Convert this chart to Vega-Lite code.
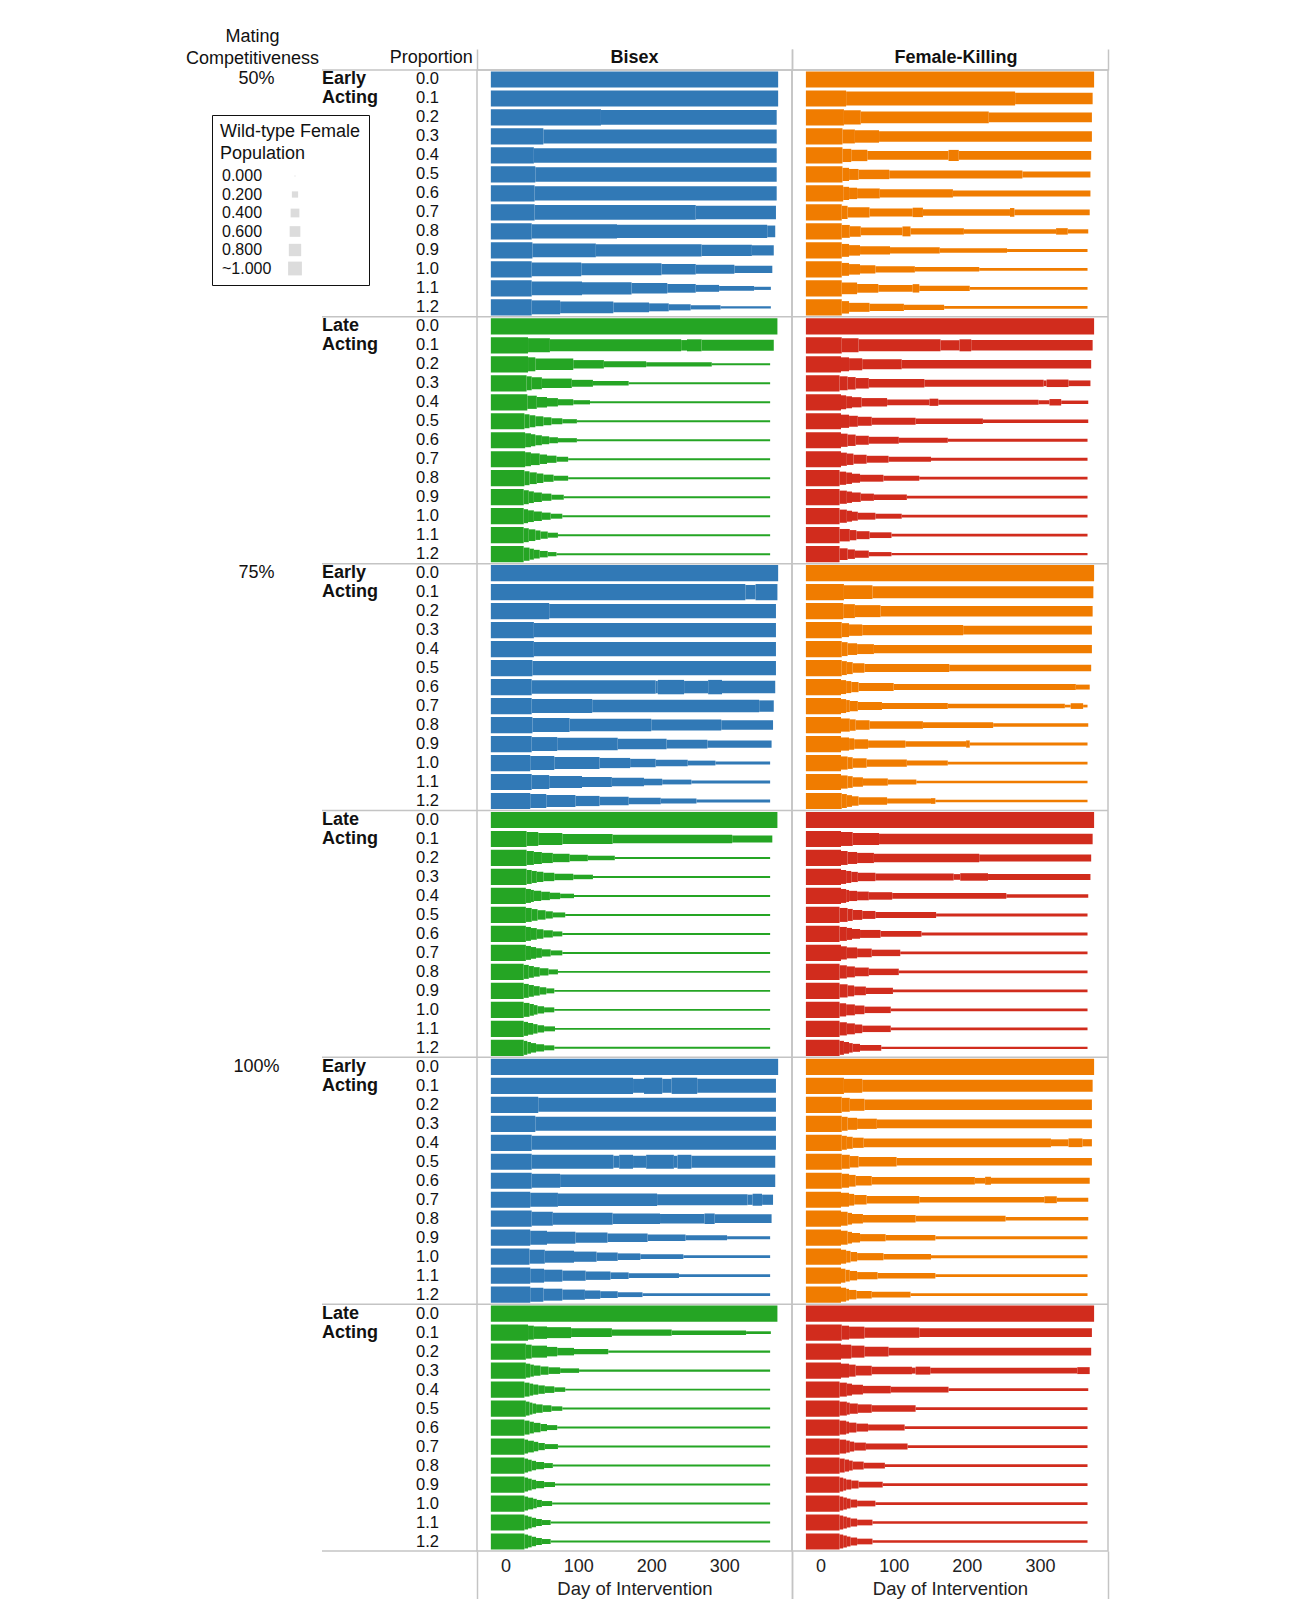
{
  "$schema": "https://vega.github.io/schema/vega-lite/v6.json",
  "padding": {"left": 183, "top": 28, "right": 10, "bottom": 10},
  "background": "white",
  "spacing": 0,
  "bounds": "flush",
  "config": {
    "font": "Liberation Sans",
    "view": {"stroke": null},
    "scale": {"bandPaddingInner": 0, "bandPaddingOuter": 0, "barBandPaddingInner": 0},
    "title": {"fontSize": 18, "color": "#111", "offset": 2, "lineHeight": 22},
    "text": {"color": "#111"}
  },
  "datasets": {
    "labels": [
      {"r": "1E0.0", "c": "m", "txt": "50%"},
      {"r": "2E0.0", "c": "m", "txt": "75%"},
      {"r": "3E0.0", "c": "m", "txt": "100%"},
      {"r": "1E0.0", "c": "a", "txt": "Early"}, {"r": "1E0.1", "c": "a", "txt": "Acting"},
      {"r": "1L0.0", "c": "a", "txt": "Late"}, {"r": "1L0.1", "c": "a", "txt": "Acting"},
      {"r": "2E0.0", "c": "a", "txt": "Early"}, {"r": "2E0.1", "c": "a", "txt": "Acting"},
      {"r": "2L0.0", "c": "a", "txt": "Late"}, {"r": "2L0.1", "c": "a", "txt": "Acting"},
      {"r": "3E0.0", "c": "a", "txt": "Early"}, {"r": "3E0.1", "c": "a", "txt": "Acting"},
      {"r": "3L0.0", "c": "a", "txt": "Late"}, {"r": "3L0.1", "c": "a", "txt": "Acting"}
    ],
    "edges": [{"v": -39}],
    "bisex": [
      {"r":"1E0.0","s":-20,"e":374,"w":1},
      {"r":"1E0.1","s":-20,"e":374,"w":1},
      {"r":"1E0.2","s":-20,"e":131,"w":1},{"r":"1E0.2","s":131,"e":372,"w":0.9},
      {"r":"1E0.3","s":-20,"e":52,"w":1},{"r":"1E0.3","s":52,"e":372,"w":0.86},
      {"r":"1E0.4","s":-20,"e":39,"w":1},{"r":"1E0.4","s":39,"e":372,"w":0.88},
      {"r":"1E0.5","s":-20,"e":41,"w":1},{"r":"1E0.5","s":41,"e":372,"w":0.88},
      {"r":"1E0.6","s":-20,"e":40,"w":1},{"r":"1E0.6","s":40,"e":372,"w":0.88},
      {"r":"1E0.7","s":-20,"e":40,"w":1},{"r":"1E0.7","s":40,"e":261,"w":0.9},{"r":"1E0.7","s":261,"e":371,"w":0.82},
      {"r":"1E0.8","s":-20,"e":36,"w":1},{"r":"1E0.8","s":36,"e":153,"w":0.88},{"r":"1E0.8","s":153,"e":359,"w":0.8},{"r":"1E0.8","s":359,"e":370,"w":0.7},
      {"r":"1E0.9","s":-20,"e":37,"w":1},{"r":"1E0.9","s":37,"e":124,"w":0.85},{"r":"1E0.9","s":124,"e":269,"w":0.75},{"r":"1E0.9","s":269,"e":338,"w":0.68},{"r":"1E0.9","s":338,"e":368,"w":0.6},
      {"r":"1E1.0","s":-20,"e":36,"w":1},{"r":"1E1.0","s":36,"e":104,"w":0.85},{"r":"1E1.0","s":104,"e":214,"w":0.72},{"r":"1E1.0","s":214,"e":261,"w":0.62},{"r":"1E1.0","s":261,"e":314,"w":0.52},{"r":"1E1.0","s":314,"e":366,"w":0.4},
      {"r":"1E1.1","s":-20,"e":36,"w":1},{"r":"1E1.1","s":36,"e":105,"w":0.85},{"r":"1E1.1","s":105,"e":173,"w":0.75},{"r":"1E1.1","s":173,"e":222,"w":0.62},{"r":"1E1.1","s":222,"e":261,"w":0.5},{"r":"1E1.1","s":261,"e":293,"w":0.38},{"r":"1E1.1","s":293,"e":341,"w":0.25},{"r":"1E1.1","s":341,"e":364,"w":0.13},
      {"r":"1E1.2","s":-20,"e":36,"w":1},{"r":"1E1.2","s":36,"e":75,"w":0.85},{"r":"1E1.2","s":75,"e":148,"w":0.7},{"r":"1E1.2","s":148,"e":197,"w":0.58},{"r":"1E1.2","s":197,"e":224,"w":0.45},{"r":"1E1.2","s":224,"e":254,"w":0.33},{"r":"1E1.2","s":254,"e":295,"w":0.2},{"r":"1E1.2","s":295,"e":364,"w":0.08},

      {"r":"1L0.0","s":-20,"e":373,"w":1},
      {"r":"1L0.1","s":-20,"e":31,"w":1},{"r":"1L0.1","s":31,"e":61,"w":0.85},{"r":"1L0.1","s":61,"e":241,"w":0.72},{"r":"1L0.1","s":241,"e":249,"w":0.62},{"r":"1L0.1","s":249,"e":269,"w":0.72},{"r":"1L0.1","s":269,"e":368,"w":0.65},
      {"r":"1L0.2","s":-20,"e":31,"w":1},{"r":"1L0.2","s":31,"e":41,"w":0.85},{"r":"1L0.2","s":41,"e":93,"w":0.68},{"r":"1L0.2","s":93,"e":135,"w":0.48},{"r":"1L0.2","s":135,"e":193,"w":0.32},{"r":"1L0.2","s":193,"e":283,"w":0.2},{"r":"1L0.2","s":283,"e":363,"w":0.06},
      {"r":"1L0.3","s":-20,"e":29,"w":1},{"r":"1L0.3","s":29,"e":36,"w":0.85},{"r":"1L0.3","s":36,"e":50,"w":0.72},{"r":"1L0.3","s":50,"e":91,"w":0.55},{"r":"1L0.3","s":91,"e":120,"w":0.38},{"r":"1L0.3","s":120,"e":169,"w":0.22},{"r":"1L0.3","s":169,"e":363,"w":0.05},
      {"r":"1L0.4","s":-20,"e":30,"w":1},{"r":"1L0.4","s":30,"e":43,"w":0.8},{"r":"1L0.4","s":43,"e":57,"w":0.62},{"r":"1L0.4","s":57,"e":72,"w":0.48},{"r":"1L0.4","s":72,"e":93,"w":0.33},{"r":"1L0.4","s":93,"e":116,"w":0.2},{"r":"1L0.4","s":116,"e":363,"w":0.05},
      {"r":"1L0.5","s":-20,"e":26,"w":1},{"r":"1L0.5","s":26,"e":33,"w":0.85},{"r":"1L0.5","s":33,"e":41,"w":0.72},{"r":"1L0.5","s":41,"e":52,"w":0.58},{"r":"1L0.5","s":52,"e":63,"w":0.45},{"r":"1L0.5","s":63,"e":78,"w":0.32},{"r":"1L0.5","s":78,"e":98,"w":0.2},{"r":"1L0.5","s":98,"e":363,"w":0.05},
      {"r":"1L0.6","s":-20,"e":27,"w":1},{"r":"1L0.6","s":27,"e":35,"w":0.85},{"r":"1L0.6","s":35,"e":41,"w":0.72},{"r":"1L0.6","s":41,"e":50,"w":0.58},{"r":"1L0.6","s":50,"e":60,"w":0.45},{"r":"1L0.6","s":60,"e":72,"w":0.32},{"r":"1L0.6","s":72,"e":98,"w":0.2},{"r":"1L0.6","s":98,"e":363,"w":0.05},
      {"r":"1L0.7","s":-20,"e":27,"w":1},{"r":"1L0.7","s":27,"e":35,"w":0.85},{"r":"1L0.7","s":35,"e":47,"w":0.7},{"r":"1L0.7","s":47,"e":57,"w":0.55},{"r":"1L0.7","s":57,"e":70,"w":0.4},{"r":"1L0.7","s":70,"e":86,"w":0.25},{"r":"1L0.7","s":86,"e":363,"w":0.05},
      {"r":"1L0.8","s":-20,"e":26,"w":1},{"r":"1L0.8","s":26,"e":33,"w":0.85},{"r":"1L0.8","s":33,"e":43,"w":0.7},{"r":"1L0.8","s":43,"e":52,"w":0.55},{"r":"1L0.8","s":52,"e":66,"w":0.4},{"r":"1L0.8","s":66,"e":86,"w":0.25},{"r":"1L0.8","s":86,"e":363,"w":0.05},
      {"r":"1L0.9","s":-20,"e":25,"w":1},{"r":"1L0.9","s":25,"e":32,"w":0.85},{"r":"1L0.9","s":32,"e":39,"w":0.7},{"r":"1L0.9","s":39,"e":50,"w":0.55},{"r":"1L0.9","s":50,"e":63,"w":0.4},{"r":"1L0.9","s":63,"e":80,"w":0.25},{"r":"1L0.9","s":80,"e":363,"w":0.05},
      {"r":"1L1.0","s":-20,"e":25,"w":1},{"r":"1L1.0","s":25,"e":31,"w":0.85},{"r":"1L1.0","s":31,"e":39,"w":0.7},{"r":"1L1.0","s":39,"e":50,"w":0.55},{"r":"1L1.0","s":50,"e":62,"w":0.4},{"r":"1L1.0","s":62,"e":78,"w":0.25},{"r":"1L1.0","s":78,"e":363,"w":0.05},
      {"r":"1L1.1","s":-20,"e":25,"w":1},{"r":"1L1.1","s":25,"e":32,"w":0.85},{"r":"1L1.1","s":32,"e":41,"w":0.7},{"r":"1L1.1","s":41,"e":48,"w":0.55},{"r":"1L1.1","s":48,"e":58,"w":0.4},{"r":"1L1.1","s":58,"e":72,"w":0.25},{"r":"1L1.1","s":72,"e":363,"w":0.05},
      {"r":"1L1.2","s":-20,"e":25,"w":1},{"r":"1L1.2","s":25,"e":33,"w":0.8},{"r":"1L1.2","s":33,"e":39,"w":0.65},{"r":"1L1.2","s":39,"e":47,"w":0.5},{"r":"1L1.2","s":47,"e":58,"w":0.35},{"r":"1L1.2","s":58,"e":70,"w":0.2},{"r":"1L1.2","s":70,"e":363,"w":0.05},

      {"r":"2E0.0","s":-20,"e":374,"w":1},
      {"r":"2E0.1","s":-20,"e":329,"w":1},{"r":"2E0.1","s":329,"e":343,"w":0.88},{"r":"2E0.1","s":343,"e":373,"w":1},
      {"r":"2E0.2","s":-20,"e":60,"w":1},{"r":"2E0.2","s":60,"e":371,"w":0.88},
      {"r":"2E0.3","s":-20,"e":39,"w":1},{"r":"2E0.3","s":39,"e":371,"w":0.88},
      {"r":"2E0.4","s":-20,"e":39,"w":1},{"r":"2E0.4","s":39,"e":371,"w":0.88},
      {"r":"2E0.5","s":-20,"e":37,"w":1},{"r":"2E0.5","s":37,"e":371,"w":0.88},
      {"r":"2E0.6","s":-20,"e":36,"w":1},{"r":"2E0.6","s":36,"e":206,"w":0.82},{"r":"2E0.6","s":206,"e":209,"w":0.75},{"r":"2E0.6","s":209,"e":245,"w":0.88},{"r":"2E0.6","s":245,"e":278,"w":0.75},{"r":"2E0.6","s":278,"e":297,"w":0.88},{"r":"2E0.6","s":297,"e":370,"w":0.75},
      {"r":"2E0.7","s":-20,"e":36,"w":1},{"r":"2E0.7","s":36,"e":119,"w":0.85},{"r":"2E0.7","s":119,"e":348,"w":0.75},{"r":"2E0.7","s":348,"e":368,"w":0.68},
      {"r":"2E0.8","s":-20,"e":37,"w":1},{"r":"2E0.8","s":37,"e":88,"w":0.85},{"r":"2E0.8","s":88,"e":200,"w":0.75},{"r":"2E0.8","s":200,"e":296,"w":0.65},{"r":"2E0.8","s":296,"e":367,"w":0.55},
      {"r":"2E0.9","s":-20,"e":36,"w":1},{"r":"2E0.9","s":36,"e":71,"w":0.85},{"r":"2E0.9","s":71,"e":154,"w":0.75},{"r":"2E0.9","s":154,"e":221,"w":0.62},{"r":"2E0.9","s":221,"e":277,"w":0.5},{"r":"2E0.9","s":277,"e":365,"w":0.4},
      {"r":"2E1.0","s":-20,"e":34,"w":1},{"r":"2E1.0","s":34,"e":67,"w":0.85},{"r":"2E1.0","s":67,"e":129,"w":0.72},{"r":"2E1.0","s":129,"e":171,"w":0.6},{"r":"2E1.0","s":171,"e":206,"w":0.48},{"r":"2E1.0","s":206,"e":250,"w":0.36},{"r":"2E1.0","s":250,"e":288,"w":0.24},{"r":"2E1.0","s":288,"e":363,"w":0.12},
      {"r":"2E1.1","s":-20,"e":36,"w":1},{"r":"2E1.1","s":36,"e":60,"w":0.85},{"r":"2E1.1","s":60,"e":105,"w":0.72},{"r":"2E1.1","s":105,"e":146,"w":0.6},{"r":"2E1.1","s":146,"e":190,"w":0.48},{"r":"2E1.1","s":190,"e":215,"w":0.36},{"r":"2E1.1","s":215,"e":255,"w":0.24},{"r":"2E1.1","s":255,"e":363,"w":0.12},
      {"r":"2E1.2","s":-20,"e":34,"w":1},{"r":"2E1.2","s":34,"e":56,"w":0.85},{"r":"2E1.2","s":56,"e":96,"w":0.72},{"r":"2E1.2","s":96,"e":129,"w":0.6},{"r":"2E1.2","s":129,"e":169,"w":0.48},{"r":"2E1.2","s":169,"e":213,"w":0.36},{"r":"2E1.2","s":213,"e":262,"w":0.24},{"r":"2E1.2","s":262,"e":363,"w":0.12},

      {"r":"2L0.0","s":-20,"e":373,"w":1},
      {"r":"2L0.1","s":-20,"e":29,"w":1},{"r":"2L0.1","s":29,"e":45,"w":0.85},{"r":"2L0.1","s":45,"e":78,"w":0.72},{"r":"2L0.1","s":78,"e":147,"w":0.6},{"r":"2L0.1","s":147,"e":311,"w":0.5},{"r":"2L0.1","s":311,"e":366,"w":0.38},
      {"r":"2L0.2","s":-20,"e":29,"w":1},{"r":"2L0.2","s":29,"e":39,"w":0.85},{"r":"2L0.2","s":39,"e":50,"w":0.72},{"r":"2L0.2","s":50,"e":65,"w":0.6},{"r":"2L0.2","s":65,"e":88,"w":0.48},{"r":"2L0.2","s":88,"e":113,"w":0.35},{"r":"2L0.2","s":113,"e":150,"w":0.22},{"r":"2L0.2","s":150,"e":363,"w":0.06},
      {"r":"2L0.3","s":-20,"e":29,"w":1},{"r":"2L0.3","s":29,"e":36,"w":0.85},{"r":"2L0.3","s":36,"e":43,"w":0.72},{"r":"2L0.3","s":43,"e":52,"w":0.6},{"r":"2L0.3","s":52,"e":67,"w":0.48},{"r":"2L0.3","s":67,"e":93,"w":0.35},{"r":"2L0.3","s":93,"e":120,"w":0.22},{"r":"2L0.3","s":120,"e":363,"w":0.05},
      {"r":"2L0.4","s":-20,"e":28,"w":1},{"r":"2L0.4","s":28,"e":35,"w":0.85},{"r":"2L0.4","s":35,"e":39,"w":0.72},{"r":"2L0.4","s":39,"e":49,"w":0.6},{"r":"2L0.4","s":49,"e":61,"w":0.48},{"r":"2L0.4","s":61,"e":75,"w":0.35},{"r":"2L0.4","s":75,"e":94,"w":0.22},{"r":"2L0.4","s":94,"e":363,"w":0.05},
      {"r":"2L0.5","s":-20,"e":28,"w":1},{"r":"2L0.5","s":28,"e":36,"w":0.85},{"r":"2L0.5","s":36,"e":44,"w":0.7},{"r":"2L0.5","s":44,"e":55,"w":0.55},{"r":"2L0.5","s":55,"e":65,"w":0.4},{"r":"2L0.5","s":65,"e":82,"w":0.25},{"r":"2L0.5","s":82,"e":363,"w":0.05},
      {"r":"2L0.6","s":-20,"e":28,"w":1},{"r":"2L0.6","s":28,"e":35,"w":0.85},{"r":"2L0.6","s":35,"e":43,"w":0.7},{"r":"2L0.6","s":43,"e":52,"w":0.55},{"r":"2L0.6","s":52,"e":65,"w":0.4},{"r":"2L0.6","s":65,"e":78,"w":0.25},{"r":"2L0.6","s":78,"e":363,"w":0.05},
      {"r":"2L0.7","s":-20,"e":28,"w":1},{"r":"2L0.7","s":28,"e":35,"w":0.85},{"r":"2L0.7","s":35,"e":42,"w":0.7},{"r":"2L0.7","s":42,"e":50,"w":0.55},{"r":"2L0.7","s":50,"e":62,"w":0.4},{"r":"2L0.7","s":62,"e":78,"w":0.25},{"r":"2L0.7","s":78,"e":363,"w":0.05},
      {"r":"2L0.8","s":-20,"e":25,"w":1},{"r":"2L0.8","s":25,"e":32,"w":0.85},{"r":"2L0.8","s":32,"e":39,"w":0.7},{"r":"2L0.8","s":39,"e":47,"w":0.55},{"r":"2L0.8","s":47,"e":59,"w":0.4},{"r":"2L0.8","s":59,"e":72,"w":0.25},{"r":"2L0.8","s":72,"e":363,"w":0.05},
      {"r":"2L0.9","s":-20,"e":25,"w":1},{"r":"2L0.9","s":25,"e":32,"w":0.85},{"r":"2L0.9","s":32,"e":39,"w":0.7},{"r":"2L0.9","s":39,"e":47,"w":0.55},{"r":"2L0.9","s":47,"e":56,"w":0.4},{"r":"2L0.9","s":56,"e":67,"w":0.25},{"r":"2L0.9","s":67,"e":363,"w":0.05},
      {"r":"2L1.0","s":-20,"e":25,"w":1},{"r":"2L1.0","s":25,"e":33,"w":0.85},{"r":"2L1.0","s":33,"e":39,"w":0.7},{"r":"2L1.0","s":39,"e":44,"w":0.55},{"r":"2L1.0","s":44,"e":53,"w":0.4},{"r":"2L1.0","s":53,"e":67,"w":0.25},{"r":"2L1.0","s":67,"e":363,"w":0.05},
      {"r":"2L1.1","s":-20,"e":25,"w":1},{"r":"2L1.1","s":25,"e":31,"w":0.85},{"r":"2L1.1","s":31,"e":38,"w":0.7},{"r":"2L1.1","s":38,"e":44,"w":0.55},{"r":"2L1.1","s":44,"e":53,"w":0.4},{"r":"2L1.1","s":53,"e":68,"w":0.25},{"r":"2L1.1","s":68,"e":363,"w":0.05},
      {"r":"2L1.2","s":-20,"e":25,"w":1},{"r":"2L1.2","s":25,"e":30,"w":0.85},{"r":"2L1.2","s":30,"e":35,"w":0.7},{"r":"2L1.2","s":35,"e":42,"w":0.55},{"r":"2L1.2","s":42,"e":53,"w":0.4},{"r":"2L1.2","s":53,"e":67,"w":0.25},{"r":"2L1.2","s":67,"e":363,"w":0.05},

      {"r":"3E0.0","s":-20,"e":374,"w":1},
      {"r":"3E0.1","s":-20,"e":175,"w":1},{"r":"3E0.1","s":175,"e":190,"w":0.85},{"r":"3E0.1","s":190,"e":215,"w":1},{"r":"3E0.1","s":215,"e":228,"w":0.85},{"r":"3E0.1","s":228,"e":263,"w":1},{"r":"3E0.1","s":263,"e":371,"w":0.85},
      {"r":"3E0.2","s":-20,"e":45,"w":1},{"r":"3E0.2","s":45,"e":371,"w":0.85},
      {"r":"3E0.3","s":-20,"e":41,"w":1},{"r":"3E0.3","s":41,"e":371,"w":0.85},
      {"r":"3E0.4","s":-20,"e":36,"w":1},{"r":"3E0.4","s":36,"e":371,"w":0.85},
      {"r":"3E0.5","s":-20,"e":36,"w":1},{"r":"3E0.5","s":36,"e":148,"w":0.85},{"r":"3E0.5","s":148,"e":156,"w":0.72},{"r":"3E0.5","s":156,"e":175,"w":0.85},{"r":"3E0.5","s":175,"e":193,"w":0.72},{"r":"3E0.5","s":193,"e":231,"w":0.85},{"r":"3E0.5","s":231,"e":236,"w":0.72},{"r":"3E0.5","s":236,"e":255,"w":0.85},{"r":"3E0.5","s":255,"e":370,"w":0.72},
      {"r":"3E0.6","s":-20,"e":36,"w":1},{"r":"3E0.6","s":36,"e":75,"w":0.85},{"r":"3E0.6","s":75,"e":370,"w":0.75},
      {"r":"3E0.7","s":-20,"e":34,"w":1},{"r":"3E0.7","s":34,"e":72,"w":0.85},{"r":"3E0.7","s":72,"e":208,"w":0.75},{"r":"3E0.7","s":208,"e":332,"w":0.65},{"r":"3E0.7","s":332,"e":339,"w":0.6},{"r":"3E0.7","s":339,"e":352,"w":0.72},{"r":"3E0.7","s":352,"e":367,"w":0.6},
      {"r":"3E0.8","s":-20,"e":36,"w":1},{"r":"3E0.8","s":36,"e":65,"w":0.85},{"r":"3E0.8","s":65,"e":147,"w":0.72},{"r":"3E0.8","s":147,"e":212,"w":0.62},{"r":"3E0.8","s":212,"e":273,"w":0.55},{"r":"3E0.8","s":273,"e":287,"w":0.62},{"r":"3E0.8","s":287,"e":365,"w":0.5},
      {"r":"3E0.9","s":-20,"e":34,"w":1},{"r":"3E0.9","s":34,"e":57,"w":0.85},{"r":"3E0.9","s":57,"e":96,"w":0.72},{"r":"3E0.9","s":96,"e":140,"w":0.6},{"r":"3E0.9","s":140,"e":195,"w":0.48},{"r":"3E0.9","s":195,"e":247,"w":0.36},{"r":"3E0.9","s":247,"e":304,"w":0.25},{"r":"3E0.9","s":304,"e":363,"w":0.12},
      {"r":"3E1.0","s":-20,"e":33,"w":1},{"r":"3E1.0","s":33,"e":54,"w":0.85},{"r":"3E1.0","s":54,"e":94,"w":0.72},{"r":"3E1.0","s":94,"e":125,"w":0.6},{"r":"3E1.0","s":125,"e":154,"w":0.48},{"r":"3E1.0","s":154,"e":185,"w":0.36},{"r":"3E1.0","s":185,"e":244,"w":0.24},{"r":"3E1.0","s":244,"e":363,"w":0.1},
      {"r":"3E1.1","s":-20,"e":34,"w":1},{"r":"3E1.1","s":34,"e":53,"w":0.85},{"r":"3E1.1","s":53,"e":78,"w":0.72},{"r":"3E1.1","s":78,"e":110,"w":0.6},{"r":"3E1.1","s":110,"e":144,"w":0.48},{"r":"3E1.1","s":144,"e":169,"w":0.36},{"r":"3E1.1","s":169,"e":238,"w":0.24},{"r":"3E1.1","s":238,"e":363,"w":0.1},
      {"r":"3E1.2","s":-20,"e":34,"w":1},{"r":"3E1.2","s":34,"e":52,"w":0.85},{"r":"3E1.2","s":52,"e":78,"w":0.72},{"r":"3E1.2","s":78,"e":109,"w":0.6},{"r":"3E1.2","s":109,"e":130,"w":0.48},{"r":"3E1.2","s":130,"e":154,"w":0.36},{"r":"3E1.2","s":154,"e":188,"w":0.24},{"r":"3E1.2","s":188,"e":363,"w":0.1},

      {"r":"3L0.0","s":-20,"e":373,"w":1},
      {"r":"3L0.1","s":-20,"e":31,"w":1},{"r":"3L0.1","s":31,"e":39,"w":0.85},{"r":"3L0.1","s":39,"e":57,"w":0.75},{"r":"3L0.1","s":57,"e":90,"w":0.65},{"r":"3L0.1","s":90,"e":146,"w":0.5},{"r":"3L0.1","s":146,"e":228,"w":0.35},{"r":"3L0.1","s":228,"e":330,"w":0.22},{"r":"3L0.1","s":330,"e":364,"w":0.1},
      {"r":"3L0.2","s":-20,"e":28,"w":1},{"r":"3L0.2","s":28,"e":36,"w":0.85},{"r":"3L0.2","s":36,"e":57,"w":0.72},{"r":"3L0.2","s":57,"e":71,"w":0.55},{"r":"3L0.2","s":71,"e":94,"w":0.42},{"r":"3L0.2","s":94,"e":141,"w":0.28},{"r":"3L0.2","s":141,"e":363,"w":0.08},
      {"r":"3L0.3","s":-20,"e":28,"w":1},{"r":"3L0.3","s":28,"e":34,"w":0.85},{"r":"3L0.3","s":34,"e":39,"w":0.72},{"r":"3L0.3","s":39,"e":48,"w":0.6},{"r":"3L0.3","s":48,"e":59,"w":0.48},{"r":"3L0.3","s":59,"e":75,"w":0.36},{"r":"3L0.3","s":75,"e":101,"w":0.22},{"r":"3L0.3","s":101,"e":363,"w":0.06},
      {"r":"3L0.4","s":-20,"e":26,"w":1},{"r":"3L0.4","s":26,"e":33,"w":0.85},{"r":"3L0.4","s":33,"e":38,"w":0.72},{"r":"3L0.4","s":38,"e":45,"w":0.6},{"r":"3L0.4","s":45,"e":54,"w":0.48},{"r":"3L0.4","s":54,"e":67,"w":0.36},{"r":"3L0.4","s":67,"e":82,"w":0.22},{"r":"3L0.4","s":82,"e":363,"w":0.05},
      {"r":"3L0.5","s":-20,"e":28,"w":1},{"r":"3L0.5","s":28,"e":33,"w":0.85},{"r":"3L0.5","s":33,"e":37,"w":0.72},{"r":"3L0.5","s":37,"e":42,"w":0.6},{"r":"3L0.5","s":42,"e":51,"w":0.48},{"r":"3L0.5","s":51,"e":63,"w":0.36},{"r":"3L0.5","s":63,"e":78,"w":0.22},{"r":"3L0.5","s":78,"e":363,"w":0.05},
      {"r":"3L0.6","s":-20,"e":26,"w":1},{"r":"3L0.6","s":26,"e":33,"w":0.85},{"r":"3L0.6","s":33,"e":39,"w":0.7},{"r":"3L0.6","s":39,"e":48,"w":0.55},{"r":"3L0.6","s":48,"e":57,"w":0.4},{"r":"3L0.6","s":57,"e":71,"w":0.25},{"r":"3L0.6","s":71,"e":363,"w":0.05},
      {"r":"3L0.7","s":-20,"e":26,"w":1},{"r":"3L0.7","s":26,"e":31,"w":0.85},{"r":"3L0.7","s":31,"e":39,"w":0.7},{"r":"3L0.7","s":39,"e":45,"w":0.55},{"r":"3L0.7","s":45,"e":54,"w":0.4},{"r":"3L0.7","s":54,"e":72,"w":0.25},{"r":"3L0.7","s":72,"e":363,"w":0.05},
      {"r":"3L0.8","s":-20,"e":26,"w":1},{"r":"3L0.8","s":26,"e":31,"w":0.85},{"r":"3L0.8","s":31,"e":36,"w":0.7},{"r":"3L0.8","s":36,"e":42,"w":0.55},{"r":"3L0.8","s":42,"e":53,"w":0.4},{"r":"3L0.8","s":53,"e":65,"w":0.25},{"r":"3L0.8","s":65,"e":363,"w":0.05},
      {"r":"3L0.9","s":-20,"e":26,"w":1},{"r":"3L0.9","s":26,"e":31,"w":0.85},{"r":"3L0.9","s":31,"e":36,"w":0.7},{"r":"3L0.9","s":36,"e":42,"w":0.55},{"r":"3L0.9","s":42,"e":53,"w":0.4},{"r":"3L0.9","s":53,"e":68,"w":0.25},{"r":"3L0.9","s":68,"e":363,"w":0.05},
      {"r":"3L1.0","s":-20,"e":26,"w":1},{"r":"3L1.0","s":26,"e":31,"w":0.85},{"r":"3L1.0","s":31,"e":38,"w":0.7},{"r":"3L1.0","s":38,"e":43,"w":0.55},{"r":"3L1.0","s":43,"e":50,"w":0.4},{"r":"3L1.0","s":50,"e":64,"w":0.25},{"r":"3L1.0","s":64,"e":363,"w":0.05},
      {"r":"3L1.1","s":-20,"e":26,"w":1},{"r":"3L1.1","s":26,"e":31,"w":0.85},{"r":"3L1.1","s":31,"e":36,"w":0.7},{"r":"3L1.1","s":36,"e":42,"w":0.55},{"r":"3L1.1","s":42,"e":50,"w":0.4},{"r":"3L1.1","s":50,"e":62,"w":0.25},{"r":"3L1.1","s":62,"e":363,"w":0.05},
      {"r":"3L1.2","s":-20,"e":26,"w":1},{"r":"3L1.2","s":26,"e":31,"w":0.85},{"r":"3L1.2","s":31,"e":36,"w":0.7},{"r":"3L1.2","s":36,"e":42,"w":0.55},{"r":"3L1.2","s":42,"e":50,"w":0.4},{"r":"3L1.2","s":50,"e":62,"w":0.25},{"r":"3L1.2","s":62,"e":363,"w":0.05}
    ],
    "fk": [
      {"r":"1E0.0","s":-20,"e":374,"w":1},
      {"r":"1E0.1","s":-20,"e":35,"w":1},{"r":"1E0.1","s":35,"e":266,"w":0.85},{"r":"1E0.1","s":266,"e":372,"w":0.7},
      {"r":"1E0.2","s":-20,"e":32,"w":1},{"r":"1E0.2","s":32,"e":55,"w":0.87},{"r":"1E0.2","s":55,"e":230,"w":0.7},{"r":"1E0.2","s":230,"e":371,"w":0.57},
      {"r":"1E0.3","s":-20,"e":30,"w":1},{"r":"1E0.3","s":30,"e":47,"w":0.85},{"r":"1E0.3","s":47,"e":80,"w":0.75},{"r":"1E0.3","s":80,"e":371,"w":0.62},
      {"r":"1E0.4","s":-20,"e":30,"w":1},{"r":"1E0.4","s":30,"e":42,"w":0.8},{"r":"1E0.4","s":42,"e":64,"w":0.68},{"r":"1E0.4","s":64,"e":175,"w":0.5},{"r":"1E0.4","s":175,"e":189,"w":0.66},{"r":"1E0.4","s":189,"e":370,"w":0.5},
      {"r":"1E0.5","s":-20,"e":30,"w":1},{"r":"1E0.5","s":30,"e":39,"w":0.8},{"r":"1E0.5","s":39,"e":52,"w":0.65},{"r":"1E0.5","s":52,"e":94,"w":0.55},{"r":"1E0.5","s":94,"e":276,"w":0.45},{"r":"1E0.5","s":276,"e":369,"w":0.32},
      {"r":"1E0.6","s":-20,"e":31,"w":1},{"r":"1E0.6","s":31,"e":39,"w":0.8},{"r":"1E0.6","s":39,"e":50,"w":0.68},{"r":"1E0.6","s":50,"e":81,"w":0.58},{"r":"1E0.6","s":81,"e":181,"w":0.47},{"r":"1E0.6","s":181,"e":369,"w":0.32},
      {"r":"1E0.7","s":-20,"e":29,"w":1},{"r":"1E0.7","s":29,"e":37,"w":0.8},{"r":"1E0.7","s":37,"e":67,"w":0.6},{"r":"1E0.7","s":67,"e":126,"w":0.45},{"r":"1E0.7","s":126,"e":140,"w":0.55},{"r":"1E0.7","s":140,"e":259,"w":0.35},{"r":"1E0.7","s":259,"e":265,"w":0.5},{"r":"1E0.7","s":265,"e":368,"w":0.3},
      {"r":"1E0.8","s":-20,"e":29,"w":1},{"r":"1E0.8","s":29,"e":40,"w":0.78},{"r":"1E0.8","s":40,"e":55,"w":0.62},{"r":"1E0.8","s":55,"e":112,"w":0.45},{"r":"1E0.8","s":112,"e":123,"w":0.58},{"r":"1E0.8","s":123,"e":196,"w":0.35},{"r":"1E0.8","s":196,"e":322,"w":0.22},{"r":"1E0.8","s":322,"e":338,"w":0.35},{"r":"1E0.8","s":338,"e":366,"w":0.2},
      {"r":"1E0.9","s":-20,"e":29,"w":1},{"r":"1E0.9","s":29,"e":39,"w":0.78},{"r":"1E0.9","s":39,"e":54,"w":0.62},{"r":"1E0.9","s":54,"e":95,"w":0.48},{"r":"1E0.9","s":95,"e":163,"w":0.35},{"r":"1E0.9","s":163,"e":255,"w":0.22},{"r":"1E0.9","s":255,"e":365,"w":0.12},
      {"r":"1E1.0","s":-20,"e":29,"w":1},{"r":"1E1.0","s":29,"e":39,"w":0.78},{"r":"1E1.0","s":39,"e":54,"w":0.62},{"r":"1E1.0","s":54,"e":75,"w":0.48},{"r":"1E1.0","s":75,"e":129,"w":0.35},{"r":"1E1.0","s":129,"e":217,"w":0.22},{"r":"1E1.0","s":217,"e":365,"w":0.1},
      {"r":"1E1.1","s":-20,"e":29,"w":1},{"r":"1E1.1","s":29,"e":50,"w":0.7},{"r":"1E1.1","s":50,"e":79,"w":0.5},{"r":"1E1.1","s":79,"e":126,"w":0.38},{"r":"1E1.1","s":126,"e":135,"w":0.48},{"r":"1E1.1","s":135,"e":204,"w":0.28},{"r":"1E1.1","s":204,"e":365,"w":0.1},
      {"r":"1E1.2","s":-20,"e":29,"w":1},{"r":"1E1.2","s":29,"e":39,"w":0.75},{"r":"1E1.2","s":39,"e":67,"w":0.52},{"r":"1E1.2","s":67,"e":114,"w":0.4},{"r":"1E1.2","s":114,"e":169,"w":0.28},{"r":"1E1.2","s":169,"e":365,"w":0.1},

      {"r":"1L0.0","s":-20,"e":374,"w":1},
      {"r":"1L0.1","s":-20,"e":29,"w":1},{"r":"1L0.1","s":29,"e":52,"w":0.85},{"r":"1L0.1","s":52,"e":164,"w":0.72},{"r":"1L0.1","s":164,"e":190,"w":0.6},{"r":"1L0.1","s":190,"e":206,"w":0.72},{"r":"1L0.1","s":206,"e":372,"w":0.62},
      {"r":"1L0.2","s":-20,"e":28,"w":1},{"r":"1L0.2","s":28,"e":39,"w":0.85},{"r":"1L0.2","s":39,"e":57,"w":0.72},{"r":"1L0.2","s":57,"e":111,"w":0.58},{"r":"1L0.2","s":111,"e":370,"w":0.48},
      {"r":"1L0.3","s":-20,"e":26,"w":1},{"r":"1L0.3","s":26,"e":37,"w":0.85},{"r":"1L0.3","s":37,"e":48,"w":0.75},{"r":"1L0.3","s":48,"e":66,"w":0.62},{"r":"1L0.3","s":66,"e":142,"w":0.48},{"r":"1L0.3","s":142,"e":305,"w":0.38},{"r":"1L0.3","s":305,"e":309,"w":0.3},{"r":"1L0.3","s":309,"e":339,"w":0.42},{"r":"1L0.3","s":339,"e":369,"w":0.3},
      {"r":"1L0.4","s":-20,"e":28,"w":1},{"r":"1L0.4","s":28,"e":35,"w":0.85},{"r":"1L0.4","s":35,"e":43,"w":0.72},{"r":"1L0.4","s":43,"e":56,"w":0.6},{"r":"1L0.4","s":56,"e":91,"w":0.48},{"r":"1L0.4","s":91,"e":149,"w":0.3},{"r":"1L0.4","s":149,"e":161,"w":0.4},{"r":"1L0.4","s":161,"e":298,"w":0.26},{"r":"1L0.4","s":298,"e":313,"w":0.18},{"r":"1L0.4","s":313,"e":329,"w":0.35},{"r":"1L0.4","s":329,"e":366,"w":0.15},
      {"r":"1L0.5","s":-20,"e":28,"w":1},{"r":"1L0.5","s":28,"e":39,"w":0.8},{"r":"1L0.5","s":39,"e":51,"w":0.65},{"r":"1L0.5","s":51,"e":70,"w":0.52},{"r":"1L0.5","s":70,"e":130,"w":0.38},{"r":"1L0.5","s":130,"e":222,"w":0.28},{"r":"1L0.5","s":222,"e":366,"w":0.15},
      {"r":"1L0.6","s":-20,"e":28,"w":1},{"r":"1L0.6","s":28,"e":37,"w":0.8},{"r":"1L0.6","s":37,"e":48,"w":0.68},{"r":"1L0.6","s":48,"e":66,"w":0.52},{"r":"1L0.6","s":66,"e":107,"w":0.38},{"r":"1L0.6","s":107,"e":174,"w":0.25},{"r":"1L0.6","s":174,"e":365,"w":0.12},
      {"r":"1L0.7","s":-20,"e":28,"w":1},{"r":"1L0.7","s":28,"e":36,"w":0.8},{"r":"1L0.7","s":36,"e":45,"w":0.68},{"r":"1L0.7","s":45,"e":63,"w":0.52},{"r":"1L0.7","s":63,"e":93,"w":0.38},{"r":"1L0.7","s":93,"e":151,"w":0.25},{"r":"1L0.7","s":151,"e":365,"w":0.12},
      {"r":"1L0.8","s":-20,"e":26,"w":1},{"r":"1L0.8","s":26,"e":35,"w":0.8},{"r":"1L0.8","s":35,"e":43,"w":0.68},{"r":"1L0.8","s":43,"e":54,"w":0.52},{"r":"1L0.8","s":54,"e":86,"w":0.38},{"r":"1L0.8","s":86,"e":135,"w":0.25},{"r":"1L0.8","s":135,"e":365,"w":0.1},
      {"r":"1L0.9","s":-20,"e":26,"w":1},{"r":"1L0.9","s":26,"e":36,"w":0.8},{"r":"1L0.9","s":36,"e":43,"w":0.68},{"r":"1L0.9","s":43,"e":55,"w":0.55},{"r":"1L0.9","s":55,"e":73,"w":0.4},{"r":"1L0.9","s":73,"e":118,"w":0.28},{"r":"1L0.9","s":118,"e":365,"w":0.1},
      {"r":"1L1.0","s":-20,"e":26,"w":1},{"r":"1L1.0","s":26,"e":36,"w":0.8},{"r":"1L1.0","s":36,"e":43,"w":0.65},{"r":"1L1.0","s":43,"e":51,"w":0.52},{"r":"1L1.0","s":51,"e":75,"w":0.38},{"r":"1L1.0","s":75,"e":111,"w":0.25},{"r":"1L1.0","s":111,"e":365,"w":0.1},
      {"r":"1L1.1","s":-20,"e":26,"w":1},{"r":"1L1.1","s":26,"e":40,"w":0.75},{"r":"1L1.1","s":40,"e":49,"w":0.6},{"r":"1L1.1","s":49,"e":67,"w":0.45},{"r":"1L1.1","s":67,"e":97,"w":0.3},{"r":"1L1.1","s":97,"e":365,"w":0.1},
      {"r":"1L1.2","s":-20,"e":26,"w":1},{"r":"1L1.2","s":26,"e":37,"w":0.7},{"r":"1L1.2","s":37,"e":47,"w":0.55},{"r":"1L1.2","s":47,"e":66,"w":0.4},{"r":"1L1.2","s":66,"e":97,"w":0.2},{"r":"1L1.2","s":97,"e":365,"w":0.08},

      {"r":"2E0.0","s":-20,"e":374,"w":1},
      {"r":"2E0.1","s":-20,"e":32,"w":1},{"r":"2E0.1","s":32,"e":71,"w":0.85},{"r":"2E0.1","s":71,"e":373,"w":0.72},
      {"r":"2E0.2","s":-20,"e":31,"w":1},{"r":"2E0.2","s":31,"e":47,"w":0.85},{"r":"2E0.2","s":47,"e":82,"w":0.72},{"r":"2E0.2","s":82,"e":372,"w":0.62},
      {"r":"2E0.3","s":-20,"e":29,"w":1},{"r":"2E0.3","s":29,"e":39,"w":0.85},{"r":"2E0.3","s":39,"e":57,"w":0.68},{"r":"2E0.3","s":57,"e":195,"w":0.6},{"r":"2E0.3","s":195,"e":371,"w":0.5},
      {"r":"2E0.4","s":-20,"e":29,"w":1},{"r":"2E0.4","s":29,"e":37,"w":0.85},{"r":"2E0.4","s":37,"e":50,"w":0.7},{"r":"2E0.4","s":50,"e":73,"w":0.58},{"r":"2E0.4","s":73,"e":371,"w":0.48},
      {"r":"2E0.5","s":-20,"e":29,"w":1},{"r":"2E0.5","s":29,"e":36,"w":0.85},{"r":"2E0.5","s":36,"e":44,"w":0.72},{"r":"2E0.5","s":44,"e":60,"w":0.55},{"r":"2E0.5","s":60,"e":176,"w":0.45},{"r":"2E0.5","s":176,"e":370,"w":0.35},
      {"r":"2E0.6","s":-20,"e":28,"w":1},{"r":"2E0.6","s":28,"e":35,"w":0.85},{"r":"2E0.6","s":35,"e":42,"w":0.72},{"r":"2E0.6","s":42,"e":52,"w":0.6},{"r":"2E0.6","s":52,"e":100,"w":0.45},{"r":"2E0.6","s":100,"e":349,"w":0.32},{"r":"2E0.6","s":349,"e":368,"w":0.25},
      {"r":"2E0.7","s":-20,"e":28,"w":1},{"r":"2E0.7","s":28,"e":35,"w":0.85},{"r":"2E0.7","s":35,"e":40,"w":0.72},{"r":"2E0.7","s":40,"e":51,"w":0.6},{"r":"2E0.7","s":51,"e":84,"w":0.45},{"r":"2E0.7","s":84,"e":174,"w":0.32},{"r":"2E0.7","s":174,"e":334,"w":0.22},{"r":"2E0.7","s":334,"e":342,"w":0.1},{"r":"2E0.7","s":342,"e":359,"w":0.3},{"r":"2E0.7","s":359,"e":365,"w":0.1},
      {"r":"2E0.8","s":-20,"e":28,"w":1},{"r":"2E0.8","s":28,"e":40,"w":0.8},{"r":"2E0.8","s":40,"e":48,"w":0.68},{"r":"2E0.8","s":48,"e":67,"w":0.55},{"r":"2E0.8","s":67,"e":140,"w":0.42},{"r":"2E0.8","s":140,"e":236,"w":0.3},{"r":"2E0.8","s":236,"e":366,"w":0.15},
      {"r":"2E0.9","s":-20,"e":28,"w":1},{"r":"2E0.9","s":28,"e":39,"w":0.8},{"r":"2E0.9","s":39,"e":46,"w":0.68},{"r":"2E0.9","s":46,"e":65,"w":0.55},{"r":"2E0.9","s":65,"e":116,"w":0.4},{"r":"2E0.9","s":116,"e":199,"w":0.28},{"r":"2E0.9","s":199,"e":204,"w":0.4},{"r":"2E0.9","s":204,"e":365,"w":0.12},
      {"r":"2E1.0","s":-20,"e":28,"w":1},{"r":"2E1.0","s":28,"e":37,"w":0.8},{"r":"2E1.0","s":37,"e":44,"w":0.7},{"r":"2E1.0","s":44,"e":63,"w":0.55},{"r":"2E1.0","s":63,"e":118,"w":0.4},{"r":"2E1.0","s":118,"e":174,"w":0.25},{"r":"2E1.0","s":174,"e":365,"w":0.1},
      {"r":"2E1.1","s":-20,"e":28,"w":1},{"r":"2E1.1","s":28,"e":37,"w":0.8},{"r":"2E1.1","s":37,"e":44,"w":0.7},{"r":"2E1.1","s":44,"e":58,"w":0.55},{"r":"2E1.1","s":58,"e":92,"w":0.4},{"r":"2E1.1","s":92,"e":131,"w":0.25},{"r":"2E1.1","s":131,"e":365,"w":0.1},
      {"r":"2E1.2","s":-20,"e":29,"w":1},{"r":"2E1.2","s":29,"e":36,"w":0.85},{"r":"2E1.2","s":36,"e":43,"w":0.7},{"r":"2E1.2","s":43,"e":52,"w":0.55},{"r":"2E1.2","s":52,"e":91,"w":0.42},{"r":"2E1.2","s":91,"e":151,"w":0.25},{"r":"2E1.2","s":151,"e":157,"w":0.3},{"r":"2E1.2","s":157,"e":365,"w":0.1},

      {"r":"2L0.0","s":-20,"e":374,"w":1},
      {"r":"2L0.1","s":-20,"e":28,"w":1},{"r":"2L0.1","s":28,"e":44,"w":0.85},{"r":"2L0.1","s":44,"e":80,"w":0.72},{"r":"2L0.1","s":80,"e":372,"w":0.62},
      {"r":"2L0.2","s":-20,"e":28,"w":1},{"r":"2L0.2","s":28,"e":37,"w":0.85},{"r":"2L0.2","s":37,"e":50,"w":0.72},{"r":"2L0.2","s":50,"e":73,"w":0.6},{"r":"2L0.2","s":73,"e":217,"w":0.48},{"r":"2L0.2","s":217,"e":370,"w":0.38},
      {"r":"2L0.3","s":-20,"e":28,"w":1},{"r":"2L0.3","s":28,"e":35,"w":0.85},{"r":"2L0.3","s":35,"e":42,"w":0.72},{"r":"2L0.3","s":42,"e":51,"w":0.6},{"r":"2L0.3","s":51,"e":75,"w":0.48},{"r":"2L0.3","s":75,"e":182,"w":0.38},{"r":"2L0.3","s":182,"e":191,"w":0.3},{"r":"2L0.3","s":191,"e":229,"w":0.42},{"r":"2L0.3","s":229,"e":369,"w":0.32},
      {"r":"2L0.4","s":-20,"e":28,"w":1},{"r":"2L0.4","s":28,"e":35,"w":0.85},{"r":"2L0.4","s":35,"e":39,"w":0.72},{"r":"2L0.4","s":39,"e":50,"w":0.6},{"r":"2L0.4","s":50,"e":66,"w":0.5},{"r":"2L0.4","s":66,"e":98,"w":0.42},{"r":"2L0.4","s":98,"e":254,"w":0.3},{"r":"2L0.4","s":254,"e":366,"w":0.15},
      {"r":"2L0.5","s":-20,"e":26,"w":1},{"r":"2L0.5","s":26,"e":37,"w":0.85},{"r":"2L0.5","s":37,"e":44,"w":0.72},{"r":"2L0.5","s":44,"e":57,"w":0.58},{"r":"2L0.5","s":57,"e":75,"w":0.45},{"r":"2L0.5","s":75,"e":158,"w":0.32},{"r":"2L0.5","s":158,"e":365,"w":0.12},
      {"r":"2L0.6","s":-20,"e":26,"w":1},{"r":"2L0.6","s":26,"e":36,"w":0.85},{"r":"2L0.6","s":36,"e":43,"w":0.72},{"r":"2L0.6","s":43,"e":54,"w":0.58},{"r":"2L0.6","s":54,"e":82,"w":0.45},{"r":"2L0.6","s":82,"e":138,"w":0.3},{"r":"2L0.6","s":138,"e":365,"w":0.12},
      {"r":"2L0.7","s":-20,"e":28,"w":1},{"r":"2L0.7","s":28,"e":36,"w":0.8},{"r":"2L0.7","s":36,"e":50,"w":0.65},{"r":"2L0.7","s":50,"e":70,"w":0.5},{"r":"2L0.7","s":70,"e":109,"w":0.35},{"r":"2L0.7","s":109,"e":365,"w":0.1},
      {"r":"2L0.8","s":-20,"e":26,"w":1},{"r":"2L0.8","s":26,"e":36,"w":0.8},{"r":"2L0.8","s":36,"e":47,"w":0.65},{"r":"2L0.8","s":47,"e":66,"w":0.5},{"r":"2L0.8","s":66,"e":107,"w":0.35},{"r":"2L0.8","s":107,"e":365,"w":0.1},
      {"r":"2L0.9","s":-20,"e":26,"w":1},{"r":"2L0.9","s":26,"e":37,"w":0.8},{"r":"2L0.9","s":37,"e":46,"w":0.65},{"r":"2L0.9","s":46,"e":62,"w":0.5},{"r":"2L0.9","s":62,"e":99,"w":0.35},{"r":"2L0.9","s":99,"e":365,"w":0.1},
      {"r":"2L1.0","s":-20,"e":26,"w":1},{"r":"2L1.0","s":26,"e":35,"w":0.8},{"r":"2L1.0","s":35,"e":47,"w":0.65},{"r":"2L1.0","s":47,"e":60,"w":0.5},{"r":"2L1.0","s":60,"e":96,"w":0.35},{"r":"2L1.0","s":96,"e":365,"w":0.1},
      {"r":"2L1.1","s":-20,"e":26,"w":1},{"r":"2L1.1","s":26,"e":36,"w":0.8},{"r":"2L1.1","s":36,"e":47,"w":0.65},{"r":"2L1.1","s":47,"e":57,"w":0.5},{"r":"2L1.1","s":57,"e":96,"w":0.35},{"r":"2L1.1","s":96,"e":365,"w":0.1},
      {"r":"2L1.2","s":-20,"e":26,"w":1},{"r":"2L1.2","s":26,"e":32,"w":0.85},{"r":"2L1.2","s":32,"e":39,"w":0.7},{"r":"2L1.2","s":39,"e":44,"w":0.55},{"r":"2L1.2","s":44,"e":54,"w":0.45},{"r":"2L1.2","s":54,"e":83,"w":0.3},{"r":"2L1.2","s":83,"e":365,"w":0.08},

      {"r":"3E0.0","s":-20,"e":374,"w":1},
      {"r":"3E0.1","s":-20,"e":32,"w":1},{"r":"3E0.1","s":32,"e":57,"w":0.85},{"r":"3E0.1","s":57,"e":372,"w":0.72},
      {"r":"3E0.2","s":-20,"e":29,"w":1},{"r":"3E0.2","s":29,"e":40,"w":0.85},{"r":"3E0.2","s":40,"e":60,"w":0.72},{"r":"3E0.2","s":60,"e":371,"w":0.62},
      {"r":"3E0.3","s":-20,"e":29,"w":1},{"r":"3E0.3","s":29,"e":37,"w":0.85},{"r":"3E0.3","s":37,"e":50,"w":0.72},{"r":"3E0.3","s":50,"e":77,"w":0.6},{"r":"3E0.3","s":77,"e":371,"w":0.5},
      {"r":"3E0.4","s":-20,"e":29,"w":1},{"r":"3E0.4","s":29,"e":36,"w":0.85},{"r":"3E0.4","s":36,"e":44,"w":0.72},{"r":"3E0.4","s":44,"e":59,"w":0.6},{"r":"3E0.4","s":59,"e":315,"w":0.5},{"r":"3E0.4","s":315,"e":339,"w":0.38},{"r":"3E0.4","s":339,"e":358,"w":0.5},{"r":"3E0.4","s":358,"e":371,"w":0.4},
      {"r":"3E0.5","s":-20,"e":29,"w":1},{"r":"3E0.5","s":29,"e":40,"w":0.85},{"r":"3E0.5","s":40,"e":52,"w":0.68},{"r":"3E0.5","s":52,"e":104,"w":0.55},{"r":"3E0.5","s":104,"e":371,"w":0.42},
      {"r":"3E0.6","s":-20,"e":29,"w":1},{"r":"3E0.6","s":29,"e":39,"w":0.85},{"r":"3E0.6","s":39,"e":48,"w":0.7},{"r":"3E0.6","s":48,"e":70,"w":0.55},{"r":"3E0.6","s":70,"e":211,"w":0.42},{"r":"3E0.6","s":211,"e":225,"w":0.3},{"r":"3E0.6","s":225,"e":233,"w":0.45},{"r":"3E0.6","s":233,"e":368,"w":0.32},
      {"r":"3E0.7","s":-20,"e":28,"w":1},{"r":"3E0.7","s":28,"e":39,"w":0.85},{"r":"3E0.7","s":39,"e":46,"w":0.7},{"r":"3E0.7","s":46,"e":63,"w":0.55},{"r":"3E0.7","s":63,"e":135,"w":0.42},{"r":"3E0.7","s":135,"e":306,"w":0.3},{"r":"3E0.7","s":306,"e":323,"w":0.38},{"r":"3E0.7","s":323,"e":366,"w":0.2},
      {"r":"3E0.8","s":-20,"e":28,"w":1},{"r":"3E0.8","s":28,"e":37,"w":0.85},{"r":"3E0.8","s":37,"e":43,"w":0.7},{"r":"3E0.8","s":43,"e":58,"w":0.55},{"r":"3E0.8","s":58,"e":130,"w":0.42},{"r":"3E0.8","s":130,"e":253,"w":0.3},{"r":"3E0.8","s":253,"e":366,"w":0.15},
      {"r":"3E0.9","s":-20,"e":28,"w":1},{"r":"3E0.9","s":28,"e":37,"w":0.85},{"r":"3E0.9","s":37,"e":43,"w":0.7},{"r":"3E0.9","s":43,"e":54,"w":0.55},{"r":"3E0.9","s":54,"e":89,"w":0.4},{"r":"3E0.9","s":89,"e":157,"w":0.28},{"r":"3E0.9","s":157,"e":365,"w":0.12},
      {"r":"3E1.0","s":-20,"e":28,"w":1},{"r":"3E1.0","s":28,"e":35,"w":0.85},{"r":"3E1.0","s":35,"e":41,"w":0.7},{"r":"3E1.0","s":41,"e":50,"w":0.55},{"r":"3E1.0","s":50,"e":86,"w":0.4},{"r":"3E1.0","s":86,"e":151,"w":0.28},{"r":"3E1.0","s":151,"e":365,"w":0.12},
      {"r":"3E1.1","s":-20,"e":28,"w":1},{"r":"3E1.1","s":28,"e":34,"w":0.85},{"r":"3E1.1","s":34,"e":40,"w":0.7},{"r":"3E1.1","s":40,"e":50,"w":0.55},{"r":"3E1.1","s":50,"e":78,"w":0.4},{"r":"3E1.1","s":78,"e":157,"w":0.28},{"r":"3E1.1","s":157,"e":365,"w":0.1},
      {"r":"3E1.2","s":-20,"e":28,"w":1},{"r":"3E1.2","s":28,"e":35,"w":0.85},{"r":"3E1.2","s":35,"e":39,"w":0.7},{"r":"3E1.2","s":39,"e":49,"w":0.55},{"r":"3E1.2","s":49,"e":70,"w":0.42},{"r":"3E1.2","s":70,"e":123,"w":0.3},{"r":"3E1.2","s":123,"e":365,"w":0.1},

      {"r":"3L0.0","s":-20,"e":374,"w":1},
      {"r":"3L0.1","s":-20,"e":29,"w":1},{"r":"3L0.1","s":29,"e":39,"w":0.85},{"r":"3L0.1","s":39,"e":60,"w":0.72},{"r":"3L0.1","s":60,"e":135,"w":0.6},{"r":"3L0.1","s":135,"e":371,"w":0.5},
      {"r":"3L0.2","s":-20,"e":28,"w":1},{"r":"3L0.2","s":28,"e":42,"w":0.85},{"r":"3L0.2","s":42,"e":60,"w":0.72},{"r":"3L0.2","s":60,"e":93,"w":0.58},{"r":"3L0.2","s":93,"e":370,"w":0.45},
      {"r":"3L0.3","s":-20,"e":28,"w":1},{"r":"3L0.3","s":28,"e":39,"w":0.85},{"r":"3L0.3","s":39,"e":48,"w":0.72},{"r":"3L0.3","s":48,"e":70,"w":0.58},{"r":"3L0.3","s":70,"e":125,"w":0.42},{"r":"3L0.3","s":125,"e":130,"w":0.32},{"r":"3L0.3","s":130,"e":150,"w":0.45},{"r":"3L0.3","s":150,"e":351,"w":0.3},{"r":"3L0.3","s":351,"e":368,"w":0.38},
      {"r":"3L0.4","s":-20,"e":26,"w":1},{"r":"3L0.4","s":26,"e":36,"w":0.85},{"r":"3L0.4","s":36,"e":43,"w":0.72},{"r":"3L0.4","s":43,"e":58,"w":0.58},{"r":"3L0.4","s":58,"e":96,"w":0.42},{"r":"3L0.4","s":96,"e":175,"w":0.3},{"r":"3L0.4","s":175,"e":366,"w":0.1},
      {"r":"3L0.5","s":-20,"e":26,"w":1},{"r":"3L0.5","s":26,"e":36,"w":0.85},{"r":"3L0.5","s":36,"e":40,"w":0.72},{"r":"3L0.5","s":40,"e":51,"w":0.6},{"r":"3L0.5","s":51,"e":70,"w":0.48},{"r":"3L0.5","s":70,"e":130,"w":0.35},{"r":"3L0.5","s":130,"e":365,"w":0.1},
      {"r":"3L0.6","s":-20,"e":26,"w":1},{"r":"3L0.6","s":26,"e":35,"w":0.85},{"r":"3L0.6","s":35,"e":39,"w":0.72},{"r":"3L0.6","s":39,"e":49,"w":0.58},{"r":"3L0.6","s":49,"e":65,"w":0.45},{"r":"3L0.6","s":65,"e":115,"w":0.32},{"r":"3L0.6","s":115,"e":365,"w":0.1},
      {"r":"3L0.7","s":-20,"e":26,"w":1},{"r":"3L0.7","s":26,"e":35,"w":0.85},{"r":"3L0.7","s":35,"e":40,"w":0.72},{"r":"3L0.7","s":40,"e":46,"w":0.58},{"r":"3L0.7","s":46,"e":62,"w":0.45},{"r":"3L0.7","s":62,"e":119,"w":0.32},{"r":"3L0.7","s":119,"e":365,"w":0.1},
      {"r":"3L0.8","s":-20,"e":26,"w":1},{"r":"3L0.8","s":26,"e":33,"w":0.85},{"r":"3L0.8","s":33,"e":39,"w":0.72},{"r":"3L0.8","s":39,"e":44,"w":0.58},{"r":"3L0.8","s":44,"e":59,"w":0.45},{"r":"3L0.8","s":59,"e":88,"w":0.3},{"r":"3L0.8","s":88,"e":365,"w":0.1},
      {"r":"3L0.9","s":-20,"e":26,"w":1},{"r":"3L0.9","s":26,"e":31,"w":0.85},{"r":"3L0.9","s":31,"e":35,"w":0.72},{"r":"3L0.9","s":35,"e":42,"w":0.58},{"r":"3L0.9","s":42,"e":52,"w":0.45},{"r":"3L0.9","s":52,"e":85,"w":0.3},{"r":"3L0.9","s":85,"e":365,"w":0.1},
      {"r":"3L1.0","s":-20,"e":26,"w":1},{"r":"3L1.0","s":26,"e":31,"w":0.85},{"r":"3L1.0","s":31,"e":36,"w":0.72},{"r":"3L1.0","s":36,"e":41,"w":0.58},{"r":"3L1.0","s":41,"e":50,"w":0.45},{"r":"3L1.0","s":50,"e":75,"w":0.3},{"r":"3L1.0","s":75,"e":365,"w":0.1},
      {"r":"3L1.1","s":-20,"e":26,"w":1},{"r":"3L1.1","s":26,"e":31,"w":0.85},{"r":"3L1.1","s":31,"e":36,"w":0.72},{"r":"3L1.1","s":36,"e":41,"w":0.58},{"r":"3L1.1","s":41,"e":50,"w":0.45},{"r":"3L1.1","s":50,"e":71,"w":0.3},{"r":"3L1.1","s":71,"e":365,"w":0.1},
      {"r":"3L1.2","s":-20,"e":26,"w":1},{"r":"3L1.2","s":26,"e":31,"w":0.85},{"r":"3L1.2","s":31,"e":36,"w":0.72},{"r":"3L1.2","s":36,"e":41,"w":0.58},{"r":"3L1.2","s":41,"e":50,"w":0.45},{"r":"3L1.2","s":50,"e":71,"w":0.3},{"r":"3L1.2","s":71,"e":365,"w":0.1}
    ]
  },
  "hconcat": [
    {
      "width": 139,
      "height": 1481,
      "title": {"text": ["Mating", "Competitiveness"], "fontWeight": "normal"},
      "layer": [
        {
          "data": {"name": "labels"},
          "transform": [{"filter": "datum.c == 'm'"}],
          "mark": {"type": "text", "fontSize": 18, "baseline": "middle", "dx": 4},
          "encoding": {
            "y": {"field": "r", "type": "nominal", "axis": null},
            "text": {"field": "txt"}
          }
        },
        {
          "data": {"name": "bisex"},
          "mark": {"type": "point", "shape": "square", "filled": true, "color": "#dcdcdc", "opacity": 0},
          "encoding": {
            "y": {"field": "r", "type": "nominal", "axis": null},
            "size": {
              "field": "w", "type": "quantitative",
              "scale": {"domain": [0, 1], "range": [1, 190]},
              "legend": {
                "title": ["Wild-type Female", "Population"],
                "orient": "none", "legendX": 29, "legendY": 45,
                "values": [0, 0.2, 0.4, 0.6, 0.8, 1],
                "labelExpr": "datum.value >= 1 ? '~1.000' : format(datum.value, '.3f')",
                "symbolType": "square", "symbolFillColor": "#dcdcdc", "symbolStrokeWidth": 0, "symbolOpacity": 1,
                "symbolOffset": 67, "labelOffset": -81,
                "strokeColor": "#111", "padding": 8,
                "titleAnchor": "start", "titleAlign": "left", "titleFontSize": 18, "titleFontWeight": "normal", "titleColor": "#111", "titlePadding": 5, "titleLineHeight": 22,
                "labelFontSize": 16, "labelColor": "#111", "rowPadding": 2.5
              }
            }
          }
        }
      ]
    },
    {
      "width": 155,
      "height": 1481,
      "title": {"text": "Proportion", "anchor": "end", "fontWeight": "normal", "dx": -5},
      "layer": [
        {
          "data": {"name": "labels"},
          "transform": [{"filter": "datum.c == 'a'"}],
          "mark": {"type": "text", "align": "left", "baseline": "middle", "fontWeight": "bold", "fontSize": 18},
          "encoding": {
            "y": {"field": "r", "type": "nominal", "axis": null},
            "x": {"field": "c", "type": "nominal", "axis": null, "scale": {"type": "point", "domain": ["a", "p"], "range": [0, 94], "padding": 0}},
            "text": {"field": "txt"}
          }
        },
        {
          "data": {"name": "bisex"},
          "transform": [{"filter": "datum.s == -20"}, {"calculate": "substring(datum.r, 2)", "as": "prop"}, {"calculate": "'p'", "as": "c"}],
          "mark": {"type": "text", "align": "left", "baseline": "middle", "fontSize": 16.5},
          "encoding": {
            "y": {"field": "r", "type": "nominal", "axis": null},
            "x": {"field": "c", "type": "nominal", "axis": null},
            "text": {"field": "prop"}
          }
        },
        {
          "data": {"name": "labels"},
          "transform": [{"filter": "datum.c == 'a' && datum.txt != 'Acting'"}],
          "mark": {"type": "rule", "color": "#c4c4c4", "strokeWidth": 1.5},
          "encoding": {"y": {"field": "r", "type": "nominal", "bandPosition": 0, "axis": null}}
        },
        {
          "data": {"name": "bisex"},
          "transform": [{"filter": "datum.r == '3L1.2' && datum.s == -20"}],
          "mark": {"type": "rule", "color": "#c4c4c4", "strokeWidth": 1.5},
          "encoding": {"y": {"field": "r", "type": "nominal", "bandPosition": 1, "axis": null}}
        }
      ]
    },
    {
      "width": 315,
      "height": 1481,
      "title": {"text": "Bisex", "fontWeight": "bold", "frame": "group", "offset": -19},
      "view": {"stroke": "#c4c4c4", "strokeWidth": 1.5},
      "resolve": {"axis": {"x": "independent"}},
      "layer": [
        {
          "data": {"name": "bisex"},
          "mark": {"type": "bar"},
          "encoding": {
            "y": {"field": "r", "type": "nominal", "axis": null},
            "x": {
              "field": "s", "type": "quantitative",
              "scale": {"domain": [-39, 393], "nice": false, "zero": false},
              "axis": {"values": [-39, 0, 100, 200, 300, 393], "labelExpr": "datum.value < -30 || datum.value > 390 ? '' : datum.label", "domain": false, "ticks": true, "tickSize": 48, "tickColor": "#c4c4c4", "tickWidth": 1.5, "tickOpacity": {"condition": {"test": "datum.value < -30 || datum.value > 390", "value": 1}, "value": 0}, "grid": false, "labelFontSize": 18, "labelColor": "#222", "labelPadding": -42, "title": "Day of Intervention", "titleFontSize": 18.5, "titleFontWeight": "normal", "titleColor": "#222", "titlePadding": -20}
            },
            "x2": {"field": "e"},
            "size": {"field": "w", "type": "quantitative", "scale": {"domain": [0, 1], "range": [1.2, 16.2]}, "legend": null},
            "color": {"condition": {"test": "indexof(datum.r, 'E') >= 0", "value": "#3179b6"}, "value": "#25a524"}
          }
        },
        {
          "data": {"name": "labels"},
          "transform": [{"filter": "datum.c == 'a' && datum.txt != 'Acting'"}],
          "mark": {"type": "rule", "color": "#c4c4c4", "strokeWidth": 1.5},
          "encoding": {"y": {"field": "r", "type": "nominal", "bandPosition": 0, "axis": null}}
        },
        {
          "data": {"name": "edges"},
          "mark": {"type": "rule", "opacity": 0},
          "encoding": {
            "x": {"field": "v", "type": "quantitative", "axis": {"orient": "top", "values": [-39, 393], "labels": false, "domain": false, "grid": false, "ticks": true, "tickSize": 21, "tickColor": "#c4c4c4", "tickWidth": 1.5, "title": null}}
          }
        }
      ]
    },
    {
      "width": 316,
      "height": 1481,
      "title": {"text": "Female-Killing", "fontWeight": "bold", "dx": 6, "frame": "group", "offset": -19},
      "view": {"stroke": "#c4c4c4", "strokeWidth": 1.5},
      "resolve": {"axis": {"x": "independent"}},
      "layer": [
        {
          "data": {"name": "fk"},
          "mark": {"type": "bar"},
          "encoding": {
            "y": {"field": "r", "type": "nominal", "axis": null},
            "x": {
              "field": "s", "type": "quantitative",
              "scale": {"domain": [-39, 393], "nice": false, "zero": false},
              "axis": {"values": [-39, 0, 100, 200, 300, 393], "labelExpr": "datum.value < -30 || datum.value > 390 ? '' : datum.label", "domain": false, "ticks": true, "tickSize": 48, "tickColor": "#c4c4c4", "tickWidth": 1.5, "tickOpacity": {"condition": {"test": "datum.value < -30 || datum.value > 390", "value": 1}, "value": 0}, "grid": false, "labelFontSize": 18, "labelColor": "#222", "labelPadding": -42, "title": "Day of Intervention", "titleFontSize": 18.5, "titleFontWeight": "normal", "titleColor": "#222", "titlePadding": -20}
            },
            "x2": {"field": "e"},
            "size": {"field": "w", "type": "quantitative", "scale": {"domain": [0, 1], "range": [1.2, 16.2]}, "legend": null},
            "color": {"condition": {"test": "indexof(datum.r, 'E') >= 0", "value": "#f07c00"}, "value": "#d12c1d"}
          }
        },
        {
          "data": {"name": "labels"},
          "transform": [{"filter": "datum.c == 'a' && datum.txt != 'Acting'"}],
          "mark": {"type": "rule", "color": "#c4c4c4", "strokeWidth": 1.5},
          "encoding": {"y": {"field": "r", "type": "nominal", "bandPosition": 0, "axis": null}}
        },
        {
          "data": {"name": "edges"},
          "mark": {"type": "rule", "opacity": 0},
          "encoding": {
            "x": {"field": "v", "type": "quantitative", "axis": {"orient": "top", "values": [-39, 393], "labels": false, "domain": false, "grid": false, "ticks": true, "tickSize": 21, "tickColor": "#c4c4c4", "tickWidth": 1.5, "title": null}}
          }
        }
      ]
    }
  ],
  "resolve": {"scale": {"y": "shared", "x": "independent", "size": "independent"}}
}
